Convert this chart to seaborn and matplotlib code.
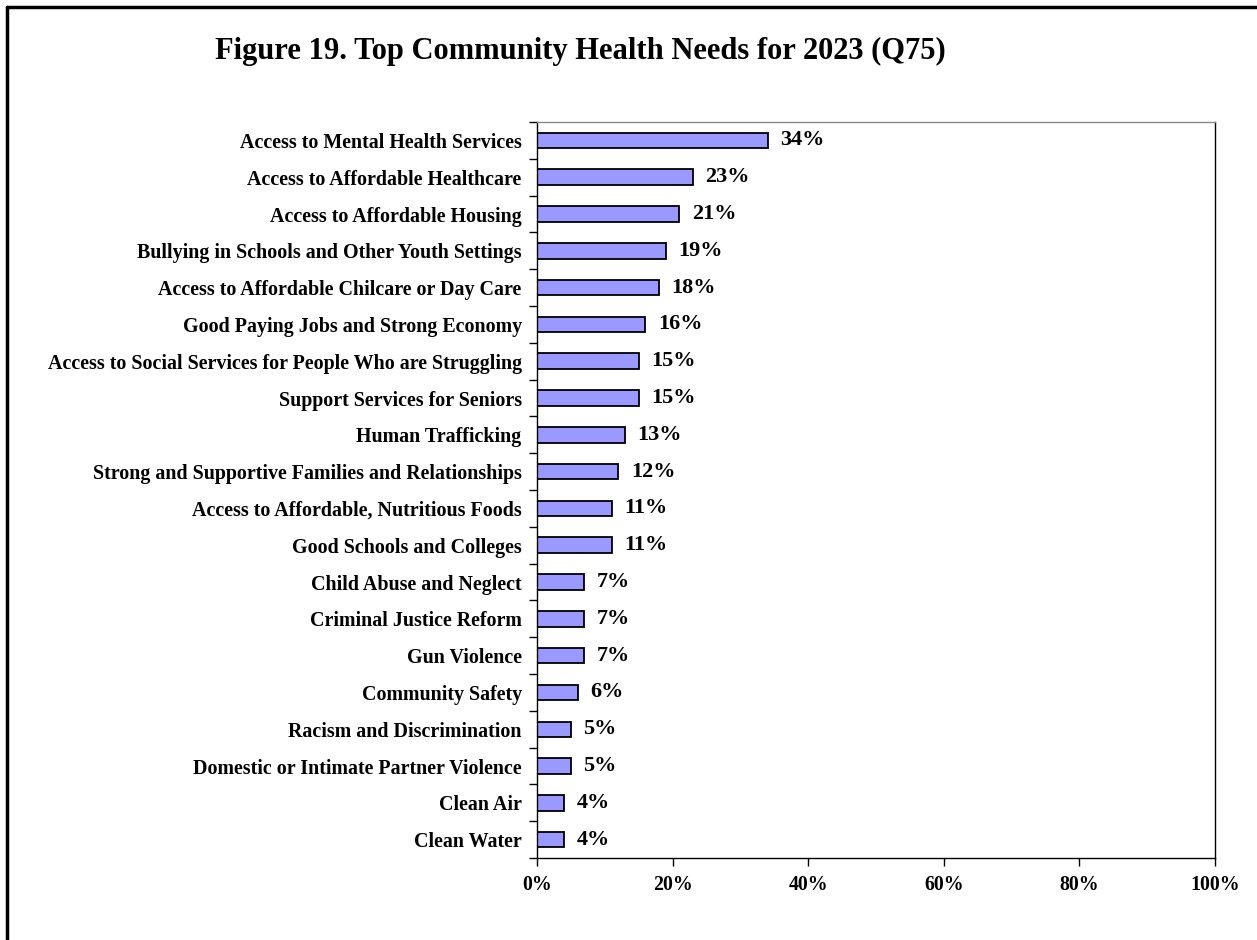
import matplotlib
matplotlib.use("Agg")
import matplotlib.pyplot as plt
import seaborn as sns
import pandas as pd
from matplotlib.lines import Line2D

# --- Data ---
needs = [
    "Access to Mental Health Services",
    "Access to Affordable Healthcare",
    "Access to Affordable Housing",
    "Bullying in Schools and Other Youth Settings",
    "Access to Affordable Chilcare or Day Care",
    "Good Paying Jobs and Strong Economy",
    "Access to Social Services for People Who are Struggling",
    "Support Services for Seniors",
    "Human Trafficking",
    "Strong and Supportive Families and Relationships",
    "Access to Affordable, Nutritious Foods",
    "Good Schools and Colleges",
    "Child Abuse and Neglect",
    "Criminal Justice Reform",
    "Gun Violence",
    "Community Safety",
    "Racism and Discrimination",
    "Domestic or Intimate Partner Violence",
    "Clean Air",
    "Clean Water",
]
pct = [34, 23, 21, 19, 18, 16, 15, 15, 13, 12, 11, 11, 7, 7, 7, 6, 5, 5, 4, 4]
x_ticks = [0, 20, 40, 60, 80, 100]

df = pd.DataFrame({"need": needs, "pct": pct})

# --- Setup ---
sns.set_style("white")
plt.rcParams["font.family"] = ["Liberation Serif", "DejaVu Serif"]
plt.rcParams["font.weight"] = "bold"
plt.rcParams["text.color"] = "black"
plt.rcParams["xtick.color"] = "black"
plt.rcParams["ytick.color"] = "black"

fig = plt.figure(figsize=(12.57, 9.4), dpi=100)
ax = fig.add_axes([0.4272, 0.0872, 0.5394, 0.783])

sns.barplot(data=df, x="pct", y="need", color="#9999FF", edgecolor="black",
            linewidth=1.3, width=0.42, saturation=1, ax=ax)

ax.bar_label(ax.containers[0], labels=[f"{v}%" for v in pct], padding=9,
             fontsize=16, fontweight="bold", color="black")

ax.set_xlim(0, 100)
ax.set_ylim(len(needs) - 0.5, -0.5)
ax.set_xticks(x_ticks)
ax.set_xticklabels([f"{t}%" for t in x_ticks], fontsize=14.3, fontweight="bold")
ax.set_yticks(range(len(needs)))
ax.set_yticklabels(needs, fontsize=14.4, fontweight="bold")
ax.set_yticks([i - 0.5 for i in range(len(needs) + 1)], minor=True)
ax.tick_params(axis="y", which="major", left=True, length=0, pad=11)
ax.tick_params(axis="y", which="minor", left=True, length=6, width=1,
               color="black", direction="out")
ax.tick_params(axis="x", which="major", bottom=True, length=6, width=1,
               color="black", direction="out", pad=6)
ax.set_xlabel("")
ax.set_ylabel("")
for s in ax.spines.values():
    s.set_visible(True)
    s.set_color("black")
    s.set_linewidth(1)
ax.spines["top"].set_color("#888888")

fig.text(0.462, 0.945, "Figure 19. Top Community Health Needs for 2023 (Q75)",
         ha="center", va="center", fontsize=22, fontweight="bold", color="black")

# outer frame (top and left only visible)
fig.add_artist(Line2D([0.0056, 1.0], [0.9926, 0.9926], color="black", lw=2.5,
                      transform=fig.transFigure))
fig.add_artist(Line2D([0.0056, 0.0056], [0.0, 0.9926], color="black", lw=2.5,
                      transform=fig.transFigure))

fig.savefig("out.png", dpi=100)
plt.close()
